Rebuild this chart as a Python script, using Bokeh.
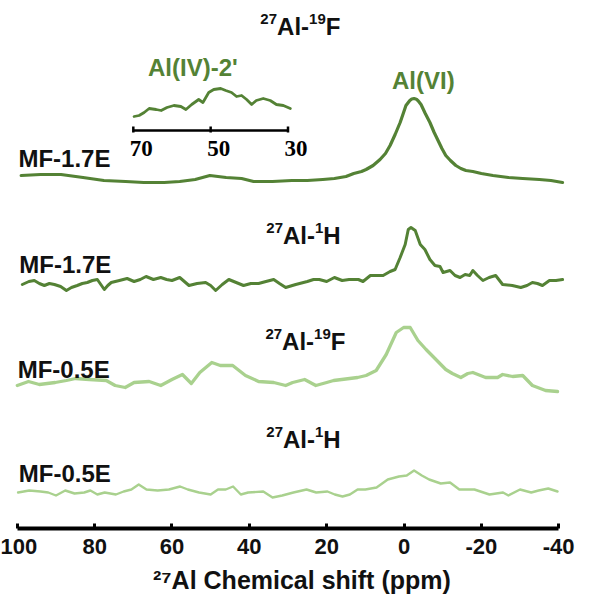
import numpy as np
from bokeh.plotting import figure
from bokeh.models import Range1d, FixedTicker
from bokeh.core.properties import value
from bokeh.embed import file_html
from bokeh.resources import INLINE

# ---------------- data ----------------
# Trace 1: MF-1.7E, 27Al-19F
t1_ppm = [99, 94, 88.7, 83, 77.6, 72, 67.3, 62, 58, 54,
          50.2, 46, 42, 38.9, 34, 29, 25, 21, 18, 15,
          13, 11, 9.8, 8, 6.2, 4.8, 3.6, 2.3, 1.0, 0.2,
          -0.5, -1.5, -2.0, -2.6, -3.2, -3.7, -4.4, -5.5, -6.7, -7.8, -8.8, -9.8,
          -10.8, -12, -13.4, -14.7, -16, -17.8, -20, -23, -27, -30.7,
          -35, -38, -41]
t1_int = [3, 4, 4, 1, -2, -3, -4, -4, -3, -1,
          3, 1, 0, -3, -3, -2, -2, -1, 0, 2,
          5, 7, 9, 13, 19, 25, 33, 44, 56, 65,
          73, 78, 79.5, 80, 79.3, 77.5, 74, 65, 56, 46, 38, 30,
          23, 18, 13, 10, 8, 7, 5, 3, 1, 0,
          -1, -2, -4]

# Trace 2: MF-1.7E, 27Al-1H
t2_ppm = [98.7, 97, 95.6, 94.3, 93.0, 91.7, 90.4, 88.8, 87.3, 86,
          84.5, 83.2, 81.9, 80.6, 79.3, 78.4, 77.5, 76.6, 75.7, 73.6,
          71.6, 69.8, 68.2, 66.7, 64.8, 62.9, 61.4, 60.0, 58.0, 56.8,
          55.6, 53.5, 51.3, 50, 48.7, 47, 45.3, 43.4, 41.5, 39.6,
          37.6, 35.7, 33.7, 32.2, 30.6, 28, 25.0, 23.4, 21.9, 20,
          18.0, 16, 14.2, 11.8, 10.6, 8.7, 7.2, 5.4, 3.6, 2.3,
          1.0, -0.3, -1.1, -1.8, -2.9, -4.2, -5.4, -6.7, -8.0, -9.3,
          -10.1, -11.9, -13.2, -14.5, -15.8, -17.0, -17.8, -19, -20.4, -22,
          -23.7, -25.5, -28, -30.2, -31.8, -33.2, -34.5, -35.8, -37.6, -39.3,
          -41.0]
t2_int = [-2, 1, 2, -1, -3, -1, -2, -4, -8, -5,
          -3, -1, 0, 2, 3, -2, -7, -3, 0, 2,
          4, 1, 3, 6, 3, 5, 3, 2, 5, 1,
          -3, -1, 0, -3, -8, -2, 3, 0, -3, -1,
          -1, 1, 3, -1, -5, -2, 1, 3, 3, 1,
          5, 2, 3, 3, 1, 7, 7, 7, 11, 13,
          25, 38, 53, 55, 52, 38, 33, 23, 17, 16,
          10, 12, 7, 5, 8, 7, 12, 7, 2, 5,
          7, -2, -3, -5, -3, 0, -1, -3, 2, 2,
          3]

# Trace 3: MF-0.5E, 27Al-19F
t3_ppm = [100.0, 97.1, 94.3, 90.2, 87.3, 84.9, 81.4, 77.0, 74.7, 72.1,
          69.8, 65.9, 62.9, 60.0, 57.3, 55.0, 52.8, 49.7, 47.5, 44.3,
          41.0, 37.6, 33.7, 30.6, 28.8, 25.7, 22.8, 20.0, 18.2, 16.1,
          12.0, 9.8, 7.2, 4.6, 2.0, 0.1, -1.6, -3.6, -5.7, -8.0,
          -10.8, -12.5, -14.7, -16.5, -17.8, -21.1, -24.2, -25.5, -28.1, -30.7,
          -33.2, -36.6, -39.7]
t3_int = [-5, -1, -4, -2, 0, 2, 1, 0, -5, -7,
          -2, -1, -5, 1, 6, -3, 8, 18, 15, 15,
          5, -1, -2, -5, -2, 1, -5, -2, 0, 1,
          3, 5, 10, 26, 48, 53, 53, 40, 31, 22,
          11, 7, 3, 7, 8, 3, 3, 6, 4, 5,
          -5, -10, -11]

# Trace 4: MF-0.5E, 27Al-1H
t4_ppm = [99.8, 96.9, 94.0, 92.0, 90.0, 87.6, 85.2, 82.7, 81.1, 79.3,
          77.4, 74.5, 72.5, 70.5, 68.6, 66.6, 63.7, 60.8, 57.9, 55.9,
          53.0, 50.0, 48.1, 46.1, 44.2, 42.2, 40.3, 36.4, 34.0, 31.5,
          28.6, 25.2, 22.7, 19.8, 17.9, 15.9, 14.0, 12.0, 10.0, 7.1,
          4.2, 1.3, -0.7, -2.6, -4.6, -6.5, -9.5, -11.9, -14.3, -18.2,
          -22.1, -25.6, -27.0, -30.0, -32.9, -34.8, -37.3, -39.7]
t4_int = [0, 2, 1, 0, -3, 2, -1, 0, 2, -2,
          0, -2, 1, 3, 8, 3, 2, 3, 6, 3,
          0, -2, 3, 3, 6, -2, 0, 1, -5, -3,
          0, 3, 0, 1, -2, -4, -2, 3, 3, 5,
          13, 16, 17, 22, 17, 13, 9, 10, 3, 3,
          -2, 0, -3, 3, 0, 2, 4, 1]

# Inset: MF-1.7E 27Al-19F, 70-30 ppm magnified
ins_ppm = [69.8, 68.5, 67.2, 65.9, 64.1, 62.8, 61.3, 59.5, 57.7, 56.4,
           54.9, 53.1, 52.0, 50.5, 49.2, 47.4, 46.1, 44.6, 43.3, 42.0,
           40.7, 39.4, 38.2, 36.4, 34.6, 33.0, 31.2, 29.4]
ins_int = [14, 15, 18, 22, 21, 20, 23, 25, 24, 21,
           26, 31, 28, 38, 41, 42, 40, 38, 34, 35,
           31, 26, 30, 32, 30, 26, 25, 22]

x_ticks = [100, 80, 60, 40, 20, 0, -20, -40]
x_tick_labels = ["100", "80", "60", "40", "20", "0", "-20", "-40"]
inset_ticks = [70, 50, 30]
inset_tick_labels = ["70", "50", "30"]

sample_labels = ["MF-1.7E", "MF-1.7E", "MF-0.5E", "MF-0.5E"]
pair_labels = ["²⁷Al-¹⁹F", "²⁷Al-¹H", "²⁷Al-¹⁹F", "²⁷Al-¹H"]
peak_labels = ["Al(IV)-2'", "Al(VI)"]
x_title = "²⁷Al Chemical shift (ppm)"

# ---------------- layout / style ----------------
DARK = "#548235"
LIGHT = "#A9D18E"
INK = "#111111"
FONT = value("Liberation Sans")

offsets = [350, 246, 148, 36]
inset_base = 398

p = figure(width=575, height=598,
           x_range=Range1d(101.5, -41.5), y_range=Range1d(0, 528),
           output_backend="svg", toolbar_location=None,
           y_axis_location=None,
           min_border_left=11, min_border_right=11,
           min_border_top=0, min_border_bottom=70)
p.grid.visible = False
p.outline_line_color = None
p.background_fill_color = "white"

traces = [(t1_ppm, t1_int, DARK, 3.2),
          (t2_ppm, t2_int, DARK, 3.0),
          (t3_ppm, t3_int, LIGHT, 3.3),
          (t4_ppm, t4_int, LIGHT, 2.4)]
for (xs, ys, col, lw), off in zip(traces, offsets):
    p.line(xs, np.array(ys) + off, line_color=col, line_width=lw,
           line_join="round", line_cap="round")

# inset trace and its small axis
p.line(ins_ppm, np.array(ins_int) + inset_base, line_color=DARK, line_width=2.8,
       line_join="round", line_cap="round")
p.segment(x0=[inset_ticks[0]], y0=[inset_base], x1=[inset_ticks[-1]], y1=[inset_base],
          line_color="black", line_width=2.5)
p.segment(x0=inset_ticks, y0=[inset_base - 2] * 3, x1=inset_ticks, y1=[inset_base + 4] * 3,
          line_color="black", line_width=2.5)
p.text(x=inset_ticks, y=[inset_base - 18] * 3, text=inset_tick_labels,
       x_offset=8, text_font=value("Liberation Serif"), text_font_style="bold",
       text_font_size="23px", text_align="center", text_baseline="middle",
       text_color="black")

# sample labels
p.text(x=[99.7, 99.5, 99.9, 99.6], y=[370, 264, 159, 55], text=sample_labels,
       text_font=FONT, text_font_style="bold", text_font_size="24px",
       text_align="left", text_baseline="middle", text_color=INK)

# coupling labels, drawn with true raised superscripts
SUP = {"⁰": "0", "¹": "1", "²": "2", "³": "3", "⁴": "4", "⁵": "5",
       "⁶": "6", "⁷": "7", "⁸": "8", "⁹": "9"}
WID = {"A": 0.722, "l": 0.278, "-": 0.333, "F": 0.611, "H": 0.722}
MAIN_PX, SUP_PX = 24, 15


def runs(s):
    out = []
    for ch in s:
        sup = ch in SUP
        c = SUP.get(ch, ch)
        if out and out[-1][1] == sup:
            out[-1][0] += c
        else:
            out.append([c, sup])
    return out


pair_x = [26.8, 26.0, 25.5, 26.0]
pair_y = [511, 302, 196, 98]
for lab, cx, cy in zip(pair_labels, pair_x, pair_y):
    pieces = runs(lab)
    widths = []
    for txt, sup in pieces:
        size = SUP_PX if sup else MAIN_PX
        widths.append(sum(WID.get(c, 0.556) for c in txt) * size)
    off = -sum(widths) / 2.0
    base = cy - 8.5
    for (txt, sup), w in zip(pieces, widths):
        p.text(x=[cx], y=[base + (7.5 if sup else 0)], text=[txt], x_offset=off,
               text_font=FONT, text_font_style="bold",
               text_font_size=f"{SUP_PX if sup else MAIN_PX}px",
               text_align="left", text_baseline="alphabetic", text_color=INK)
        off += w

# peak labels
p.text(x=[54.6, -5.0], y=[461, 448], text=peak_labels,
       text_font=FONT, text_font_style="bold", text_font_size="24px",
       text_align="center", text_baseline="middle", text_color=DARK)

# main x axis
ax = p.xaxis[0]
ax.ticker = FixedTicker(ticks=x_ticks)
ax.major_label_overrides = {t: lab for t, lab in zip(x_ticks, x_tick_labels)}
ax.bounds = (-40, 100)
ax.axis_line_width = 4
ax.axis_line_color = "black"
ax.major_tick_in = 5
ax.major_tick_out = 0
ax.major_tick_line_width = 3
ax.minor_tick_line_color = None
ax.major_label_text_font = "Liberation Sans"
ax.major_label_text_font_style = "bold"
ax.major_label_text_font_size = "22px"
ax.major_label_text_color = INK
ax.major_label_standoff = 10
ax.axis_label = "\u00a0" * 4 + x_title
ax.axis_label_text_font = "Liberation Sans"
ax.axis_label_text_font_style = "bold"
ax.axis_label_text_font_size = "25px"
ax.axis_label_text_color = INK
ax.axis_label_standoff = 9

open("out.html", "w").write(file_html(p, INLINE))
